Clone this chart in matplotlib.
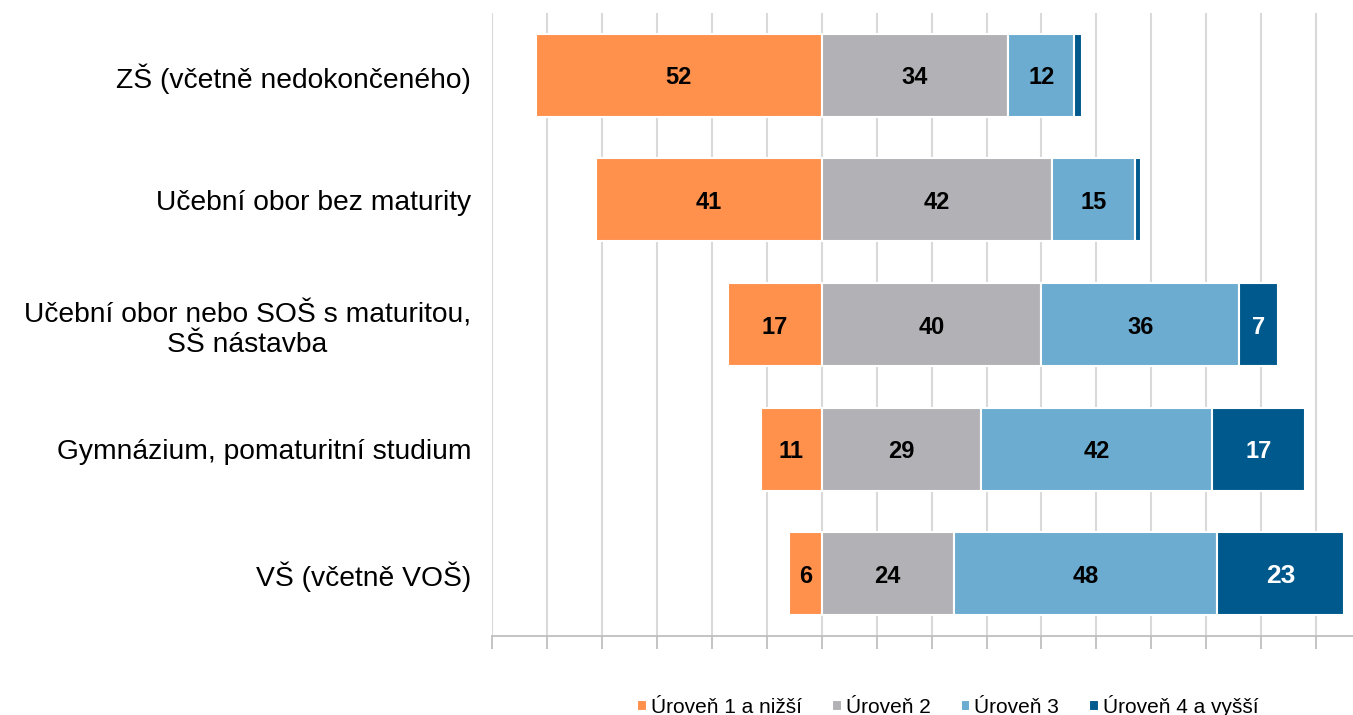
import numpy as np
import matplotlib.pyplot as plt

categories = ["ZŠ (včetně nedokončeného)", "Učební obor bez maturity",
              "Učební obor nebo SOŠ s maturitou,\nSŠ nástavba",
              "Gymnázium, pomaturitní studium", "VŠ (včetně VOŠ)"]
level1 = [52, 41, 17, 11, 6]
level2 = [34, 42, 40, 29, 24]
level3 = [12, 15, 36, 42, 48]
level4 = [1.4, 1.2, 7, 17, 23]
series_names = ["Úroveň 1 a nižší", "Úroveň 2", "Úroveň 3", "Úroveň 4 a vyšší"]
colors = ["#FF914D", "#B2B2B6", "#6BACD0", "#00598C"]

plt.rcParams['font.family'] = ['Liberation Sans', 'DejaVu Sans']

fig = plt.figure(figsize=(13.53, 7.15), dpi=100)
ax = fig.add_axes([492 / 1353, 1 - 636 / 715, 1 - 492 / 1353, 623 / 715])

y = np.arange(len(categories))
h = 0.665

# level 1 goes to the left of zero, the rest stack to the right
l1 = -np.array(level1)
bars = [ax.barh(y, l1, height=h, color=colors[0], edgecolor='white', linewidth=1.5, label=series_names[0])]
left = np.zeros(len(categories))
for vals, col, name in zip([level2, level3, level4], colors[1:], series_names[1:]):
    bars.append(ax.barh(y, vals, left=left, height=h, color=col, edgecolor='white', linewidth=1.5, label=name))
    left = left + np.array(vals)

# value labels (skip the thin slivers)
for k, (bc, vals) in enumerate(zip(bars, [level1, level2, level3, level4])):
    for i, rect in enumerate(bc):
        v = vals[i]
        if v < 5:
            continue
        cx = rect.get_x() + rect.get_width() / 2
        col = 'white' if k == 3 else 'black'
        size = 19 if v > 20 and k == 3 else 17
        ax.text(cx, y[i], str(v), ha='center', va='center_baseline', color=col,
                fontsize=size, fontweight='bold')

ax.set_xlim(-60, 96.7)
ax.set_ylim(4.5, -0.5)
ax.set_xticks(np.arange(-60, 91, 10))
ax.set_xticklabels([])
ax.tick_params(axis='x', length=9, width=1.3, color='#BFBFBF', direction='out')
ax.set_yticks(y)
ax.set_yticklabels(categories, fontsize=20.3, multialignment='center')
ax.tick_params(axis='y', length=0, pad=15)
ax.grid(axis='x', color='#D9D9D9', linewidth=1.5)
ax.set_axisbelow(True)
for s in ['top', 'right', 'left']:
    ax.spines[s].set_visible(False)
ax.spines['bottom'].set_color('#BFBFBF')
ax.spines['bottom'].set_linewidth(1.3)

fig.legend(loc='center', bbox_to_anchor=(948 / 1353, 1 - 706 / 715), ncol=4, frameon=False,
           fontsize=15, handlelength=0.45, handleheight=0.45, handletextpad=0.2, columnspacing=1.45)

plt.savefig("out.png", dpi=100)
